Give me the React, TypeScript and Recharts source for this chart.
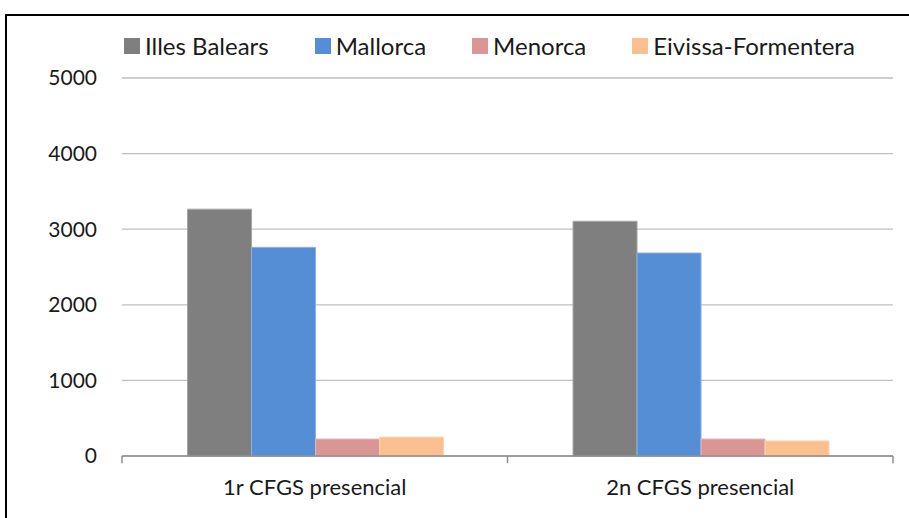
import React from "react";
import { BarChart, Bar, XAxis, YAxis, CartesianGrid, ReferenceLine } from "recharts";

const categories = ["1r CFGS presencial", "2n CFGS presencial"];
const seriesNames = ["Illes Balears", "Mallorca", "Menorca", "Eivissa-Formentera"];
const illesBalears = [3265, 3105];
const mallorca = [2760, 2685];
const menorca = [225, 225];
const eivissaFormentera = [250, 200];
const yTicks = [0, 1000, 2000, 3000, 4000, 5000];

const colors = ["#7f7f7f", "#558ed5", "#d99694", "#fac090"];
const strokes = ["#a6a6a6", "#8db3e2", "#e6b9b8", "#fcd5b5"];
const seriesValues = [illesBalears, mallorca, menorca, eivissaFormentera];
const keys = ["s0", "s1", "s2", "s3"];

const data = categories.map((c, i) => {
  const row: any = { name: c };
  keys.forEach((k, j) => (row[k] = seriesValues[j][i]));
  return row;
});

const FONT = "Lato, 'Open Sans', sans-serif";

export default function App() {
  return (
    <div
      style={{
        position: "fixed",
        left: 0,
        top: 0,
        width: 909,
        height: 518,
        background: "#ffffff",
        overflow: "hidden",
      }}
    >
      <div
        style={{
          position: "absolute",
          left: 5,
          top: 14,
          width: 920,
          height: 520,
          borderLeft: "2px solid #000",
          borderTop: "2px solid #000",
          boxSizing: "border-box",
        }}
      />
      <div
        style={{
          position: "absolute",
          left: 124,
          top: 30,
          display: "flex",
          alignItems: "center",
          gap: 46,
          fontFamily: FONT,
          fontSize: 24,
          color: "#1a1a1a",
          whiteSpace: "nowrap",
        }}
      >
        {seriesNames.map((n, i) => (
          <div key={n} style={{ display: "flex", alignItems: "center" }}>
            <div style={{ width: 16, height: 16, background: colors[i], marginRight: 5 }} />
            <span style={{ lineHeight: "32px" }}>{n}</span>
          </div>
        ))}
      </div>
      <div style={{ position: "absolute", left: 0, top: 0 }}>
        <BarChart
          width={909}
          height={518}
          data={data}
          margin={{ top: 78, right: 16, bottom: 22, left: 62 }}
          barCategoryGap="17%"
          barGap={0}
        >
          <CartesianGrid vertical={false} stroke="#bfbfbf" strokeWidth={1.3} />
          <XAxis
            dataKey="name"
            height={40}
            axisLine={{ stroke: "#8c8c8c", strokeWidth: 1.5 }}
            tickLine={false}
            tickSize={6}
            tickMargin={17}
            tick={{ fontFamily: FONT, fontSize: 22, fill: "#1a1a1a" }}
          />
          <YAxis
            domain={[0, 5000]}
            ticks={yTicks}
            axisLine={false}
            tickLine={false}
            width={60}
            tickSize={6}
            tickMargin={19}
            tick={{ fontFamily: FONT, fontSize: 21, fill: "#1a1a1a" }}
          />
          {keys.map((k, i) => (
            <Bar
              key={k}
              dataKey={k}
              name={seriesNames[i]}
              fill={colors[i]}
              stroke={strokes[i]}
              strokeWidth={1}
              isAnimationActive={false}
            />
          ))}
          {categories.map((c) => (
            <ReferenceLine
              key={"t" + c}
              segment={[
                { x: c, y: 0 },
                { x: c, y: -95 },
              ]}
              position="start"
              ifOverflow="visible"
              stroke="#8c8c8c"
              strokeWidth={1.5}
            />
          ))}
          <ReferenceLine
            segment={[
              { x: categories[categories.length - 1], y: 0 },
              { x: categories[categories.length - 1], y: -95 },
            ]}
            position="end"
            ifOverflow="visible"
            stroke="#8c8c8c"
            strokeWidth={1.5}
          />
        </BarChart>
      </div>
    </div>
  );
}
